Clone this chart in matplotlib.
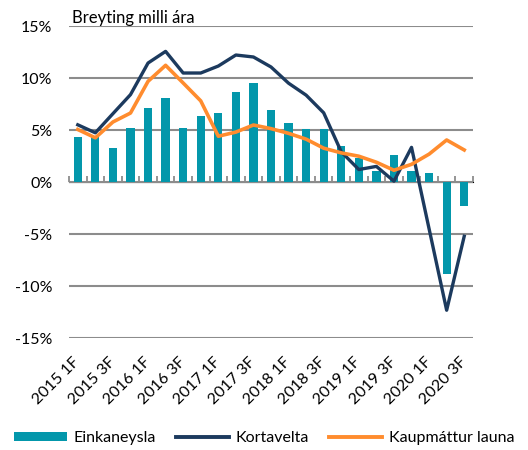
import matplotlib
matplotlib.use("Agg")
import matplotlib.pyplot as plt
import numpy as np
from matplotlib.lines import Line2D
from matplotlib.patches import Patch

plt.rcParams['font.family'] = ['Lato', 'DejaVu Sans']

quarters = ["2015 1F", "2015 2F", "2015 3F", "2015 4F",
            "2016 1F", "2016 2F", "2016 3F", "2016 4F",
            "2017 1F", "2017 2F", "2017 3F", "2017 4F",
            "2018 1F", "2018 2F", "2018 3F", "2018 4F",
            "2019 1F", "2019 2F", "2019 3F", "2019 4F",
            "2020 1F", "2020 2F", "2020 3F"]

einkaneysla = [4.33, 4.4, 3.23, 5.24, 7.14, 8.08, 5.16, 6.35, 6.65, 8.64, 9.55,
               6.97, 5.64, 5.05, 5.05, 3.47, 2.3, 1.05, 2.55, 1.05, 0.85, -8.82, -2.27]

kortavelta = [5.5, 4.73, 6.57, 8.40, 11.44, 12.56, 10.48, 10.48, 11.15, 12.21, 12.02,
              11.06, 9.5, 8.35, 6.65, 2.9, 1.2, 1.5, 0.08, 3.33, -4.5, -12.33, -5.22]

kaupmattur = [5.05, 4.25, 5.77, 6.63, 9.68, 11.22, 9.52, 7.8, 4.4, 4.8, 5.48,
              5.13, 4.68, 4.12, 3.25, 2.8, 2.48, 1.9, 1.13, 1.7, 2.68, 4.04, 3.08]

c_bar = "#0397AB"
c_dark = "#1C3A5E"
c_orange = "#FF8C2E"
grid_c = "#8C8C8C"

fig = plt.figure(figsize=(5.28, 4.5), dpi=100)
ax = fig.add_axes([69/528, 1-338/450, (473-69)/528, (338-26)/450])

x = np.arange(len(quarters))
ax.bar(x, einkaneysla, width=0.47, color=c_bar, zorder=2)
ax.plot(x, kortavelta, color=c_dark, lw=2.4, zorder=3)
ax.plot(x, kaupmattur, color=c_orange, lw=2.6, zorder=4)

ax.set_xlim(-0.5, len(quarters) - 0.5)
ax.set_ylim(-15, 15)
yt = [-15, -10, -5, 0, 5, 10, 15]
ax.set_yticks(yt)
ax.set_yticklabels([f"{v}%" for v in yt], fontsize=11.5)
for v in yt:
    ax.axhline(v, color=grid_c, lw=1.5, zorder=1)
ax.tick_params(axis='y', length=0, pad=12)

for s in ax.spines.values():
    s.set_visible(False)

ax.set_xticks(x[::2])
ax.set_xticklabels(quarters[::2], rotation=45, ha='right', va='center',
                   rotation_mode='anchor', fontsize=11.5)
ax.tick_params(axis='x', length=0, pad=16)

sec = ax.secondary_xaxis(0.5)
sec.set_xticks(np.arange(-0.5, len(quarters), 1.0))
sec.set_xticklabels([])
sec.tick_params(axis='x', direction='out', length=4, width=1.3, color=grid_c)
sec.spines['bottom'].set_color(grid_c)
sec.spines['bottom'].set_linewidth(1.5)

fig.text(72/528, 1-18/450, "Breyting milli ára", fontsize=12, va='center', ha='left')

handles = [Patch(facecolor=c_bar, edgecolor='none'),
           Line2D([], [], color=c_dark, lw=2.8),
           Line2D([], [], color=c_orange, lw=2.8)]
labels = ["Einkaneysla", "Kortavelta", "Kaupmáttur launa"]
fig.legend(handles, labels, loc='center', bbox_to_anchor=(0.5, 1-438/450), ncol=3,
           frameon=False, fontsize=11.5, handlelength=3.3, handleheight=0.55,
           handletextpad=0.4, columnspacing=1.3, borderaxespad=0)

fig.savefig("out.png", dpi=100)
